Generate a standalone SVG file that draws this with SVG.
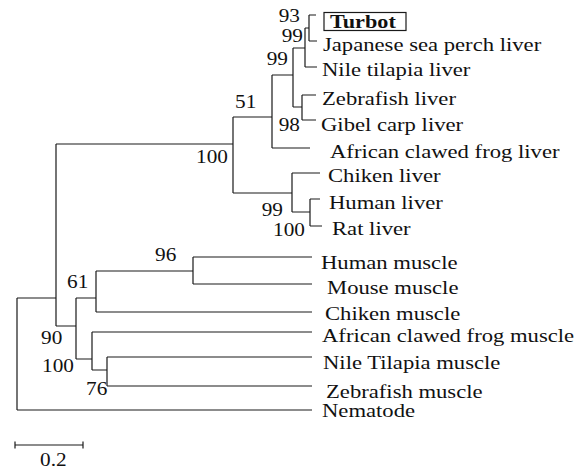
<svg xmlns="http://www.w3.org/2000/svg" width="583" height="469" viewBox="0 0 583 469">
<style>
  .br { fill: none; stroke: #1a1a1a; stroke-width: 1.2; }
  text { font-family: "Liberation Serif", "Times New Roman", serif; font-size: 18.5px; fill: #111; }
  .bs { text-anchor: end; }
  .bold { font-weight: bold; }
</style>
<rect width="583" height="469" fill="#fff"/>
<g id="connectors" class="br">
  <path d="M17,298 V410 M17,410 H312 M17,298 H56"/>
  <path d="M56,144 V326 M56,144 H233 M233,117 V193"/>
  <path d="M233,117 H272 M272,75 V148 M272,148 H310"/>
  <path d="M272,75 H293 M293,48 V107"/>
  <path d="M293,48 H305 M305,28 V67 M305,67 H317"/>
  <path d="M305,28 H309 M309,15 V41 M309,15 H316 M309,41 H317"/>
  <path d="M293,107 H302 M302,95 V120 M302,95 H316 M302,120 H316"/>
  <path d="M233,193 H292 M292,173 V212 M292,173 H320"/>
  <path d="M292,212 H310 M310,199 V226 M310,199 H320 M310,226 H322"/>
  <path d="M56,326 H76 M76,298 V359"/>
  <path d="M76,298 H96 M96,271 V312 M96,312 H312"/>
  <path d="M96,271 H193 M193,257 V284 M193,257 H312 M193,284 H312"/>
  <path d="M76,359 H92 M92,332 V370 M92,332 H312"/>
  <path d="M92,370 H107 M107,357 V386 M107,357 H312 M107,386 H312"/>
</g>
<g id="bootstrap">
  <text class="bs" transform="translate(300,22) scale(1.15,1)">93</text>
  <text class="bs" transform="translate(303,42) scale(1.15,1)">99</text>
  <text class="bs" transform="translate(288,65) scale(1.15,1)">99</text>
  <text transform="translate(235,108) scale(1.15,1)">51</text>
  <text class="bs" transform="translate(300,131) scale(1.15,1)">98</text>
  <text class="bs" transform="translate(228,163) scale(1.15,1)">100</text>
  <text class="bs" transform="translate(283,216) scale(1.15,1)">99</text>
  <text class="bs" transform="translate(305,236) scale(1.15,1)">100</text>
  <text transform="translate(155,261) scale(1.15,1)">96</text>
  <text transform="translate(67,288) scale(1.15,1)">61</text>
  <text transform="translate(41,344) scale(1.15,1)">90</text>
  <text transform="translate(42,372) scale(1.15,1)">100</text>
  <text transform="translate(86,395) scale(1.15,1)">76</text>
</g>
<g id="turbot">
  <rect x="324" y="12.5" width="82" height="18" fill="none" stroke="#1a1a1a" stroke-width="1.2"/>
  <text class="bold" transform="translate(330,27.5) scale(1.2,1)">Turbot</text>
</g>
<g id="japanese-sea-perch-liver"><text transform="translate(323,50.5) scale(1.225,1)">Japanese sea perch liver</text></g>
<g id="nile-tilapia-liver"><text transform="translate(322,75.5) scale(1.225,1)">Nile tilapia liver</text></g>
<g id="zebrafish-liver"><text transform="translate(322,104.5) scale(1.225,1)">Zebrafish liver</text></g>
<g id="gibel-carp-liver"><text transform="translate(321,130.5) scale(1.225,1)">Gibel carp liver</text></g>
<g id="african-clawed-frog-liver"><text transform="translate(330,157.5) scale(1.225,1)">African clawed frog liver</text></g>
<g id="chiken-liver"><text transform="translate(328,181.5) scale(1.225,1)">Chiken liver</text></g>
<g id="human-liver"><text transform="translate(329,208.5) scale(1.225,1)">Human liver</text></g>
<g id="rat-liver"><text transform="translate(332,234.5) scale(1.225,1)">Rat liver</text></g>
<g id="human-muscle"><text transform="translate(321,268.5) scale(1.225,1)">Human muscle</text></g>
<g id="mouse-muscle"><text transform="translate(327,293.5) scale(1.225,1)">Mouse muscle</text></g>
<g id="chiken-muscle"><text transform="translate(325,319.5) scale(1.225,1)">Chiken muscle</text></g>
<g id="african-clawed-frog-muscle"><text transform="translate(322,341.5) scale(1.225,1)">African clawed frog muscle</text></g>
<g id="nile-tilapia-muscle"><text transform="translate(323,368.5) scale(1.225,1)">Nile Tilapia muscle</text></g>
<g id="zebrafish-muscle"><text transform="translate(326,397.5) scale(1.225,1)">Zebrafish muscle</text></g>
<g id="nematode"><text transform="translate(322,417) scale(1.225,1)">Nematode</text></g>
<g id="scale-bar">
  <path class="br" d="M15,445 H83 M15,441.5 V448.5 M83,441.5 V448.5"/>
  <text transform="translate(40,465.5) scale(1.15,1)">0.2</text>
</g>
</svg>
